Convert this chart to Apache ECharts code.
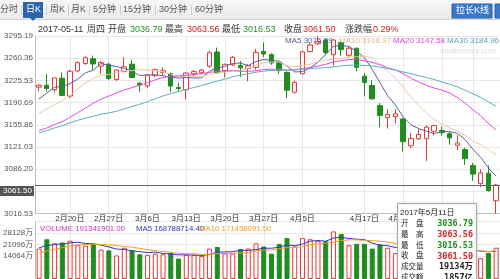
<!DOCTYPE html>
<html><head><meta charset="utf-8">
<script src="https://cdn.jsdelivr.net/npm/echarts@6/dist/echarts.min.js"></script>
<style>html,body{margin:0;padding:0;background:#fff;overflow:hidden}#c{width:500px;height:279px}</style>
</head><body><div id="c"></div>
<script>
// ---------- DATA ----------
const dates = ['2017-02-14','2017-02-15','2017-02-16','2017-02-17','2017-02-20','2017-02-21','2017-02-22','2017-02-23','2017-02-24','2017-02-27','2017-02-28','2017-03-01','2017-03-02','2017-03-03','2017-03-06','2017-03-07','2017-03-08','2017-03-09','2017-03-10','2017-03-13','2017-03-14','2017-03-15','2017-03-16','2017-03-17','2017-03-20','2017-03-21','2017-03-22','2017-03-23','2017-03-24','2017-03-27','2017-03-28','2017-03-29','2017-03-30','2017-03-31','2017-04-05','2017-04-06','2017-04-07','2017-04-10','2017-04-11','2017-04-12','2017-04-13','2017-04-14','2017-04-17','2017-04-18','2017-04-19','2017-04-20','2017-04-21','2017-04-24','2017-04-25','2017-04-26','2017-04-27','2017-04-28','2017-05-02','2017-05-03','2017-05-04','2017-05-05','2017-05-08','2017-05-09','2017-05-10','2017-05-11'];
const opens  = [3215.0,3218.0,3211.0,3229.0,3201.0,3240.5,3252.0,3259.5,3248.0,3251.0,3227.0,3240.0,3251.0,3221.0,3217.0,3233.0,3238.0,3236.0,3214.5,3211.0,3236.0,3237.5,3248.0,3270.0,3241.0,3250.0,3249.0,3244.0,3246.0,3271.0,3266.0,3254.0,3238.0,3207.0,3236.0,3271.0,3283.0,3289.0,3266.0,3285.0,3265.0,3276.0,3232.0,3217.5,3186.0,3167.0,3169.0,3165.0,3123.0,3134.0,3134.0,3146.0,3147.0,3142.0,3124.0,3117.0,3092.0,3064.0,3080.0,3036.79];
const closes = [3217.93,3212.99,3229.62,3202.08,3239.96,3253.33,3261.22,3251.38,3253.43,3228.66,3241.73,3246.93,3230.03,3218.31,3233.87,3242.41,3240.66,3216.75,3212.76,3237.02,3239.33,3241.76,3268.94,3237.45,3250.81,3261.61,3245.22,3248.55,3269.45,3266.96,3252.95,3241.31,3210.24,3222.51,3270.30,3281.00,3286.62,3269.39,3288.97,3273.83,3275.96,3246.07,3222.17,3196.71,3170.69,3172.17,3173.15,3129.53,3134.57,3140.85,3152.19,3154.66,3143.71,3135.35,3127.37,3103.04,3078.61,3080.53,3052.79,3061.50];
const lows   = [3208.5,3208.0,3207.0,3201.0,3198.0,3238.5,3250.0,3242.5,3236.0,3226.0,3224.5,3238.0,3229.0,3207.5,3214.0,3231.0,3234.0,3207.0,3208.0,3196.0,3232.0,3235.0,3245.0,3236.0,3230.0,3248.0,3231.0,3224.0,3242.0,3262.0,3250.0,3236.0,3198.0,3205.0,3235.0,3269.0,3281.0,3266.0,3249.0,3264.0,3262.0,3240.0,3200.5,3195.0,3152.0,3150.0,3158.0,3114.0,3119.0,3132.0,3099.0,3139.0,3139.0,3125.0,3116.0,3093.0,3068.0,3058.0,3051.0,3016.53];
const highs  = [3219.5,3236.0,3230.5,3238.0,3242.0,3255.5,3263.5,3264.5,3256.0,3253.0,3243.0,3262.0,3258.0,3223.0,3235.0,3244.0,3246.0,3238.0,3222.0,3238.5,3242.0,3244.0,3272.0,3277.0,3252.0,3264.0,3256.0,3251.0,3275.0,3285.0,3268.0,3256.0,3240.0,3225.0,3272.0,3284.0,3295.0,3292.0,3290.0,3287.0,3279.0,3277.0,3237.0,3226.0,3190.0,3180.5,3180.5,3167.0,3143.0,3149.0,3155.0,3156.0,3153.0,3145.0,3140.0,3120.0,3096.0,3086.0,3092.0,3063.56];
// closes of the 29 sessions before the first visible one (needed for the moving averages)
const priorCloses = [3114.66,3102.24,3096.10,3103.64,3135.92,3158.79,3165.41,3154.32,3171.24,3161.67,3136.75,3119.29,3112.76,3103.43,3108.77,3113.01,3101.30,3123.14,3136.77,3142.55,3149.55,3159.17,3140.17,3156.98,3153.09,3166.98,3183.18,3196.70,3216.84];
// volume in 万
const volumes = [18600,24300,21800,22300,23400,20700,20400,21200,18000,17500,14400,19100,17500,15100,14800,15500,15100,15900,12500,14800,14800,14000,18600,19600,15600,15600,18300,18600,21800,19900,15500,21500,25000,19900,25000,24300,23400,23100,29100,27500,20700,21500,21500,18600,21200,19100,15900,23000,18500,16000,17000,16500,17800,17200,18560,18500,18060,12770,15940,19134];
const priorVolumes = [11500,12000,12800,13500,14000,17500,19000,20000,20400];
const labelDates = ['2017-02-20','2017-02-27','2017-03-06','2017-03-13','2017-03-20','2017-03-27','2017-04-05','2017-04-17','2017-04-24'];
const gridDates = ['2017-02-20','2017-02-27','2017-03-06','2017-03-13','2017-03-20','2017-03-27','2017-04-05','2017-04-17','2017-04-24','2017-05-02','2017-05-08'];
const yTickLabels = ['3016.53','3051.36','3086.20','3121.03','3155.86','3190.69','3225.53','3260.36','3295.19'];
const priceMin = 3016.53, priceMax = 3295.19, lastPrice = 3061.50;
const volMax = 35160, volStep = 7032;
const tabs = ['分时','日K','周K','月K','5分钟','15分钟','30分钟','60分钟'];
const maLegend = [['MA5 3075.09','#56639b'],['MA10 3108.97','#e2b98e'],['MA20 3147.58','#dd44dd'],['MA30 3184.96','#4fa9b4']];
const volLegend = [['VOLUME 191341901.00','#cc33cc'],['MA5 168788714.40','#3333cc'],['MA10 171458091.50','#f0a020']];
const tipTitle = '2017年5月11日';
const tipRows = [['开　盘','3036.79','#1e8e1e'],['最　高','3063.56','#e02020'],['最　低','3016.53','#1e8e1e'],['收　盘','3061.50','#e02020'],['成交量','19134万','#222'],['成交额','1857亿','#222']];
const infoParts = [['2017-05-11','#333'],['周四','#333'],['开盘','#333'],['3036.79','#1e9a1e'],['最高','#333'],['3063.56','#e02020'],['最低','#333'],['3016.53','#1e9a1e'],['收盘','#333'],['3061.50','#e02020'],['涨跌幅','#333'],['0.29%','#e02020']];

// ---------- helpers ----------
function movingAvg(vals, prior, n){
  const all = prior.concat(vals);
  return vals.map((_, i) => {
    const end = prior.length + i; let s = 0;
    for (let k = end - n + 1; k <= end; k++) s += all[k];
    return +(s / n).toFixed(2);
  });
}
const FONT = '"Liberation Sans","Noto Sans CJK SC",sans-serif';
const MONO = '"DejaVu Sans Mono","Noto Sans CJK SC",monospace';
function T(text, x, y, fill, font, extra){
  return Object.assign({type:'text', x:x, y:y, z:50, silent:true,
    style:Object.assign({text:text, fill:fill, font:font, textVerticalAlign:'middle'}, extra||{})});
}
const isLabel = (idx) => labelDates.indexOf(dates[idx]) >= 0;
const isGrid = (idx) => gridDates.indexOf(dates[idx]) >= 0;
const fmtDate = (d) => { const p = d.split('-'); return (+p[1]) + '月' + (+p[2]) + '日'; };

const chart = echarts.init(document.getElementById('c'));
const GRID_COLOR = '#e8e8e8', AXIS_COLOR = '#bdbdbd';
const upStyle = {color:'#fff', borderColor:'#e53935', borderWidth:1};
const downStyle = {color:'#1e8e1e', borderColor:'#1e8e1e', borderWidth:1};

const option = {
  animation:false,
  backgroundColor:'#fff',
  grid:[{left:35, right:0, top:36, height:177.7},{left:35, right:0, top:221.5, height:74}],
  xAxis:[
    {type:'category', gridIndex:0, data:dates, boundaryGap:true,
      axisLine:{lineStyle:{color:AXIS_COLOR}}, axisTick:{show:false},
      axisLabel:{interval:(i)=>isLabel(i), formatter:fmtDate, fontSize:8, color:'#333', margin:1, fontFamily:FONT},
      splitLine:{show:true, interval:(i)=>isGrid(i), alignWithLabel:true, lineStyle:{color:GRID_COLOR}}},
    {type:'category', gridIndex:1, data:dates, boundaryGap:true,
      axisLine:{show:false}, axisTick:{show:false}, axisLabel:{show:false},
      splitLine:{show:true, interval:(i)=>isGrid(i), alignWithLabel:true, lineStyle:{color:GRID_COLOR}}}
  ],
  yAxis:[
    {type:'value', gridIndex:0, min:priceMin, max:priceMax, show:false, position:'right'},
    {type:'value', gridIndex:0, min:0, max:8, interval:1, position:'left',
      axisLine:{show:true, lineStyle:{color:AXIS_COLOR}}, axisTick:{show:false},
      axisLabel:{formatter:(v)=> v===1 ? '' : yTickLabels[v], fontSize:8, color:'#555', margin:2, fontFamily:FONT},
      splitLine:{lineStyle:{color:GRID_COLOR}}},
    {type:'value', gridIndex:1, min:0, max:volMax, interval:volStep, position:'left',
      axisLine:{show:true, lineStyle:{color:AXIS_COLOR}}, axisTick:{show:false},
      axisLabel:{formatter:(v)=> (v>=2*volStep && v<volMax) ? v+'万' : '', fontSize:8, color:'#555', margin:2, fontFamily:FONT},
      splitLine:{lineStyle:{color:GRID_COLOR}}}
  ],
  series:[
    {type:'candlestick', xAxisIndex:0, yAxisIndex:0, barWidth:5,
      data:dates.map((d,i)=>[opens[i],closes[i],lows[i],highs[i]]),
      itemStyle:{color:'#fff', color0:'#1e8e1e', borderColor:'#e53935', borderColor0:'#1e8e1e', borderWidth:1},
      markLine:{silent:true, symbol:['none','none'], label:{show:false},
        lineStyle:{color:'#666', width:1, type:'solid'}, data:[{yAxis:lastPrice}]}},
    {type:'line', xAxisIndex:0, yAxisIndex:0, data:movingAvg(closes, priorCloses, 5), symbol:'none', silent:true, lineStyle:{width:1, color:'#56639b'}},
    {type:'line', xAxisIndex:0, yAxisIndex:0, data:movingAvg(closes, priorCloses, 10), symbol:'none', silent:true, lineStyle:{width:1, color:'#ecc9a6'}},
    {type:'line', xAxisIndex:0, yAxisIndex:0, data:movingAvg(closes, priorCloses, 20), symbol:'none', silent:true, lineStyle:{width:1, color:'#e04ce0'}},
    {type:'line', xAxisIndex:0, yAxisIndex:0, data:movingAvg(closes, priorCloses, 30), symbol:'none', silent:true, lineStyle:{width:1, color:'#5cb0ba'}},
    {type:'bar', xAxisIndex:1, yAxisIndex:2, barWidth:5,
      data:volumes.map((v,i)=>({value:v, itemStyle: closes[i]>=opens[i] ? upStyle : downStyle}))},
    {type:'line', xAxisIndex:1, yAxisIndex:2, data:movingAvg(volumes, priorVolumes, 5), symbol:'none', silent:true, lineStyle:{width:1, color:'#3333cc'}},
    {type:'line', xAxisIndex:1, yAxisIndex:2, data:movingAvg(volumes, priorVolumes, 10), symbol:'none', silent:true, lineStyle:{width:1, color:'#f0a020'}}
  ]
};
chart.setOption(option);

// ---------- overlay texts / UI ----------
const g = [];
const F9 = '9px ' + FONT, F8 = '8px ' + FONT;
// tab bar
g.push({type:'rect', z:40, silent:true, shape:{x:0,y:0,width:500,height:20},
  style:{fill:new echarts.graphic.LinearGradient(0,0,0,1,[{offset:0,color:'#f7f7f7'},{offset:1,color:'#e9e9e9'}]), stroke:null}});
g.push({type:'line', z:41, silent:true, shape:{x1:0,y1:19.5,x2:500,y2:19.5}, style:{stroke:'#d4d4d4', lineWidth:1}});
g.push({type:'rect', z:42, silent:true, shape:{x:23,y:2,width:20,height:16}, style:{fill:'#2d64b0'}});
g.push({type:'polygon', z:42, silent:true, shape:{points:[[30,18],[36,18],[33,21]]}, style:{fill:'#2d64b0'}});
const tabX = [0,26,50,71,93,123,159,195];
const sepX = [21,46,68,89,120,155,191];
tabs.forEach((t,i)=> g.push(T(t, tabX[i], 10, i===1 ? '#fff' : '#555', F9)));
sepX.forEach((x)=> g.push({type:'line', z:42, silent:true, shape:{x1:x+0.5,y1:5,x2:x+0.5,y2:15}, style:{stroke:'#cfcfcf', lineWidth:1}}));
g.push({type:'rect', z:42, silent:true, shape:{x:452,y:4,width:40,height:14}, style:{fill:'#3b78c8', stroke:'#2d62a8', lineWidth:1}});
g.push(T('拉长K线', 456, 11, '#fff', F9));
g.push({type:'rect', z:42, silent:true, shape:{x:495,y:4,width:10,height:14}, style:{fill:'#3b78c8', stroke:'#2d62a8', lineWidth:1}});
// info line
const infoX = [38,87,108,130,165,187,222,243,284,303,345,373];
infoParts.forEach((p,i)=> g.push(T(p[0], infoX[i], 30, p[1], F9)));
// MA legend
const maX = [285,339,393,447];
maLegend.forEach((m,i)=> g.push(T(m[0], maX[i], 41, m[1], F8)));
// watermark
g.push(T('eastmoney.com', 440, 51, 'rgba(150,150,150,0.35)', F8));
// volume legend
const vlX = [40,136,199];
volLegend.forEach((m,i)=> g.push(T(m[0], vlX[i], 229, m[1], '7.8px ' + FONT)));
// last price label box
const py = chart.convertToPixel({yAxisIndex:0}, lastPrice);
g.push({type:'rect', z:45, silent:true, shape:{x:0,y:py+1,width:34,height:10}, style:{fill:'#555'}});
g.push(T(lastPrice.toFixed(2), 32, py+6, '#fff', F8, {textAlign:'right'}));
// tooltip box
g.push({type:'rect', z:60, silent:true, shape:{x:397.5,y:203.5,width:79,height:90},
  style:{fill:'#fff', stroke:'#a8a8a8', lineWidth:1, shadowBlur:3, shadowColor:'rgba(0,0,0,0.15)'}});
g.push(Object.assign(T(tipTitle, 400, 213, '#222', '8px ' + FONT), {z:61}));
tipRows.forEach((r,i)=>{
  const y = 224 + i*10.8;
  g.push(Object.assign(T(r[0], 401, y, '#222', '7.5px ' + FONT), {z:61}));
  g.push(Object.assign(T(r[1], 473, y, r[2], 'bold 8.5px ' + MONO, {textAlign:'right'}), {z:61}));
});
chart.setOption({graphic:{elements:g}});
</script>
</body></html>
